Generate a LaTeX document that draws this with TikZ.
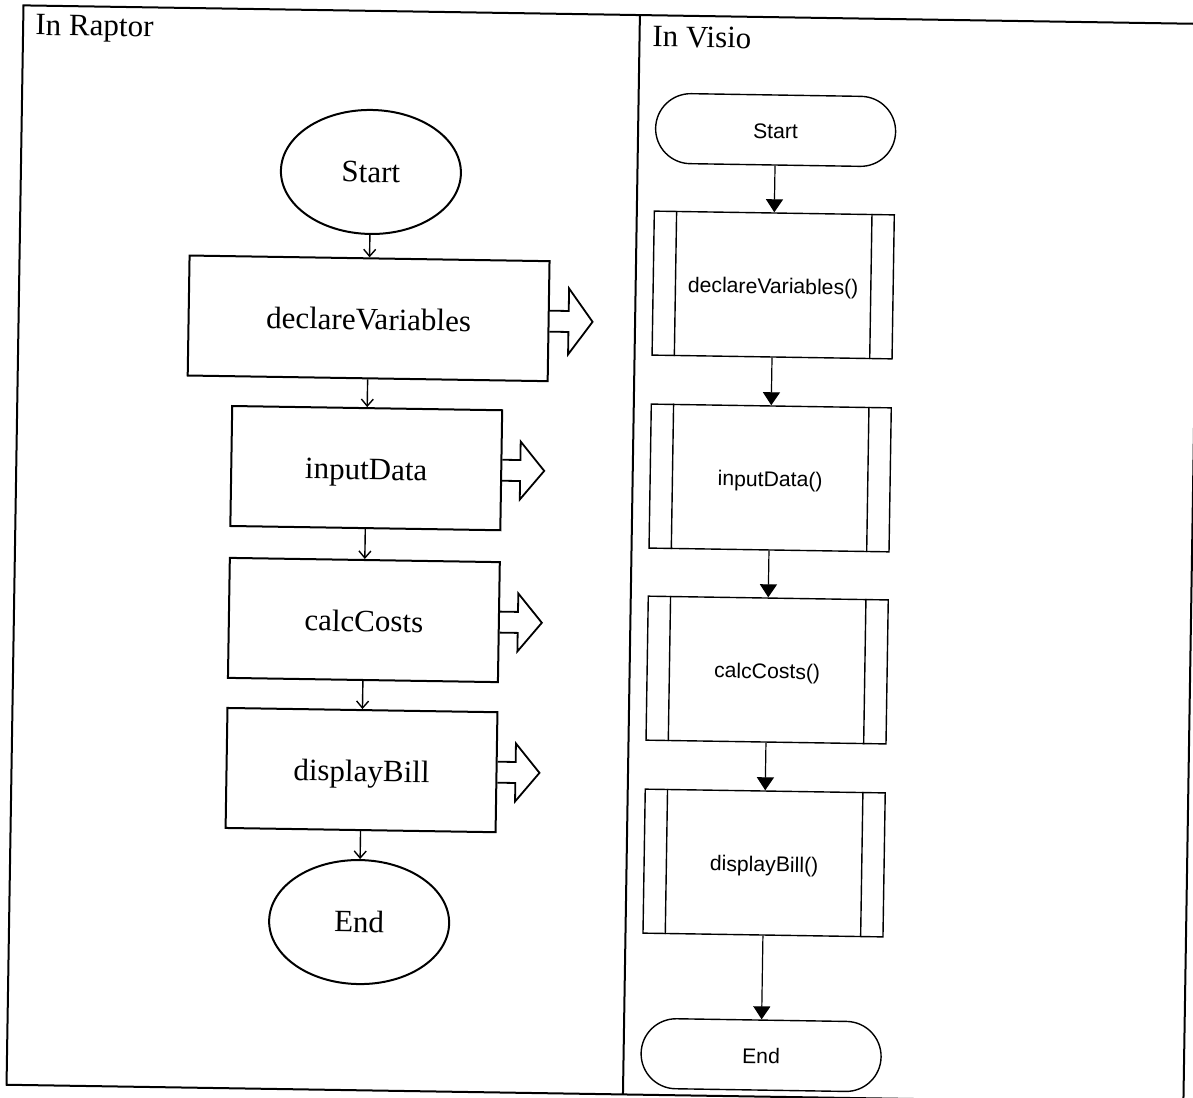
\documentclass[tikz,border=0pt]{standalone}
\usepackage{fontspec}
\setmainfont{Liberation Serif}
\setsansfont{Liberation Sans}
\usetikzlibrary{arrows.meta,shapes.geometric}
\begin{document}
\begin{tikzpicture}[x=0.5pt,y=-0.5pt,
  frame/.style={line width=1pt},
  rfont/.style={font=\fontsize{15.5}{18}\selectfont},
  rterm/.style={ellipse, draw, line width=1pt, minimum width=90pt, minimum height=62pt, inner sep=0pt, text height=10.3pt, text depth=0pt, rfont},
  rbox/.style={rectangle, draw, line width=1pt, minimum height=60pt, inner sep=0pt, text height=11.5pt, text depth=0pt, rfont},
  rflow/.style={line width=0.7pt, -{Straight Barb[length=3.5pt,width=6pt]}},
  blockarrow/.style={line width=0.9pt, line join=miter},
  vfont/.style={font=\sffamily\fontsize{10.6}{13}\selectfont},
  vterm/.style={rectangle, rounded corners=17.5pt, draw, line width=0.7pt, minimum width=120pt, minimum height=35pt, inner sep=0pt, text height=8.4pt, text depth=0pt, vfont},
  vbox/.style={rectangle, draw, line width=0.7pt, minimum width=120pt, minimum height=72pt, inner sep=0pt, text height=8.6pt, text depth=0pt, vfont},
  vinner/.style={line width=0.7pt},
  vflow/.style={line width=0.6pt, -{Triangle[length=6.5pt,width=8.5pt]}},
]
\useasboundingbox (0,0) rectangle (1193,1097);
\clip (0,0) rectangle (1193,1097);
\begin{scope}[rotate around={-0.9:(600,550)}, transform shape]
% frame
\draw[frame] (15,14.5) rectangle (1192,1094);
\draw[frame] (631.5,14.5) -- (631.5,1094);
\node[rfont, anchor=west, inner sep=0pt] (tr) at (27,37) {In Raptor};
\node[rfont, anchor=west, inner sep=0pt] (tv) at (644,36) {In Visio};

% Raptor
\node[rterm] (rs) at (365,175.6) {Start};
\node[rbox, minimum width=180pt] (r1) at (365,322) {declareVariables};
\node[rbox, minimum width=135pt] (r2) at (365,471.8) {inputData};
\node[rbox, minimum width=135pt] (r3) at (365,623.7) {calcCosts};
\node[rbox, minimum width=135pt] (r4) at (365,773.8) {displayBill};
\node[rterm] (re) at (365,925.8) {End};

\draw[rflow] (rs) -- (r1);
\draw[rflow] (r1) -- (r2);
\draw[rflow] (r2) -- (r3);
\draw[rflow] (r3) -- (r4);
\draw[rflow] (r4) -- (re);

\draw[blockarrow] (r1.east) ++(0,-10.5) -- ++(19,0) -- ++(0,-22.5) -- ++(24,33) -- ++(-24,33) -- ++(0,-22.5) -- ++(-19,0);
\foreach \b in {r2,r3,r4}{
  \draw[blockarrow] (\b.east) ++(0,-10.5) -- ++(18,0) -- ++(0,-18.5) -- ++(24,29) -- ++(-24,29) -- ++(0,-18.5) -- ++(-18,0);
}

% Visio
\node[vterm] (vs) at (769,127.3) {Start};
\node[vbox] (v1) at (769,282.3) {declareVariables()};
\node[vbox] (v2) at (769,475.3) {inputData()};
\node[vbox] (v3) at (769,667.4) {calcCosts()};
\node[vbox] (v4) at (769,860.4) {displayBill()};
\node[vterm] (ve) at (769,1052.5) {End};

\foreach \b in {v1,v2,v3,v4}{
  \draw[vinner] ([xshift=11.5pt]\b.north west) -- ([xshift=11.5pt]\b.south west);
  \draw[vinner] ([xshift=-11.5pt]\b.north east) -- ([xshift=-11.5pt]\b.south east);
}

\draw[vflow] (vs) -- (v1);
\draw[vflow] (v1) -- (v2);
\draw[vflow] (v2) -- (v3);
\draw[vflow] (v3) -- (v4);
\draw[vflow] (v4) -- (ve);
\end{scope}
\end{tikzpicture}
\end{document}
